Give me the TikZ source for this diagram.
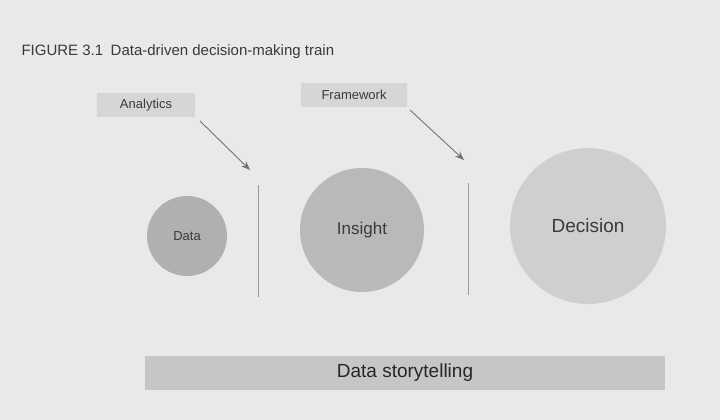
\documentclass[tikz,border=0pt]{standalone}
\usepackage{fontspec}
\setmainfont{Liberation Sans}
\usepackage{tikz}
\usetikzlibrary{arrows.meta}
\definecolor{paper}{HTML}{E9E9E7}
\definecolor{tagfill}{HTML}{D6D6D4}
\definecolor{inkgray}{HTML}{3A3A3A}
\tikzset{
  tagbox/.style={fill=tagfill, minimum width=98, minimum height=24, font=\fontsize{13}{15}\selectfont, text=inkgray},
  blob/.style={circle, text=inkgray},
  divider/.style={draw=gray!80, line width=0.8pt},
  pointer/.style={draw=gray!90!black, line width=0.9pt, -{Stealth[length=9pt,width=7pt]}}
}
\begin{document}
\begin{tikzpicture}[x=1pt,y=1pt,yscale=-1,xscale=1]
        \fill[paper] (0,0) rectangle (720,420);

        %Title
        \node[anchor=west, text=inkgray, font=\fontsize{15}{18}\selectfont] (title) at (18,52) {FIGURE 3.1\enspace Data-driven decision-making train};

        %Labels
        \node[tagbox] (analytics) at (146,105) {Analytics};
        \node[tagbox, minimum width=106] (framework) at (354,95) {Framework};
        \coordinate (analyticstip) at (250,170);
        \coordinate (frameworktip) at (464,160);
        \draw[pointer] (200,121) -- (analyticstip);
        \draw[pointer] (410,110) -- (frameworktip);

        %Circles
        \node[blob, fill=gray!62, minimum size=80, font=\fontsize{13}{15}\selectfont] (data) at (187,236) {Data};
        \node[blob, fill=gray!55, minimum size=124, font=\fontsize{17}{20}\selectfont] (insight) at (362,230) {Insight};
        \node[blob, fill=gray!38, minimum size=156, font=\fontsize{19}{22}\selectfont] (decision) at (588,226) {Decision};

        %Dividers
        \draw[divider] (258,185) -- (258,297);
        \draw[divider] (468,183) -- (468,295);

        %Bar
        \node[fill=gray!45, minimum width=520, minimum height=34, font=\fontsize{19}{22}\selectfont, text=black!85] (story) at (405,373) {Data storytelling};
\end{tikzpicture}
\end{document}
